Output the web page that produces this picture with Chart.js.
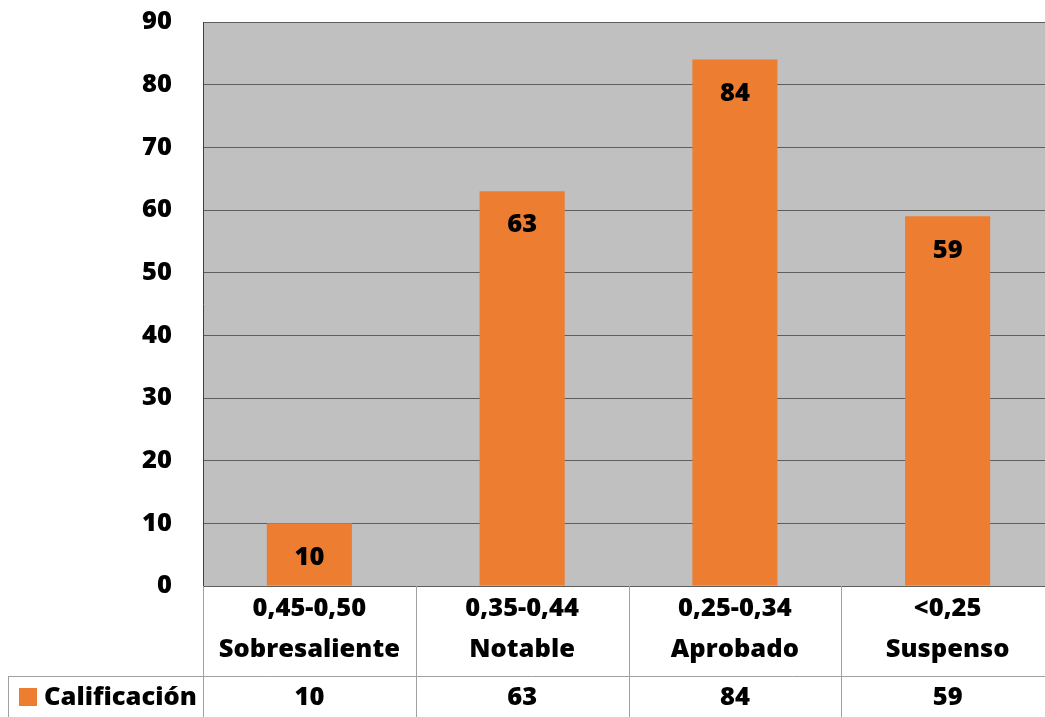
<!DOCTYPE html>
<html>
<head>
<meta charset="utf-8">
<script src="https://cdn.jsdelivr.net/npm/chart.js@4.4.1/dist/chart.umd.min.js"></script>
<style>
  html, body { margin: 0; padding: 0; background: #fff; overflow: hidden; }
  #wrap { width: 1045px; height: 717px; overflow: hidden; }
</style>
</head>
<body>
<div id="wrap"><canvas id="c" width="1054" height="717"></canvas></div>
<script>
// ── Data ───────────────────────────────────────────────────
const rangeLabels = ['0,45-0,50', '0,35-0,44', '0,25-0,34', '<0,25'];
const gradeLabels = ['Sobresaliente', 'Notable', 'Aprobado', 'Suspenso'];
const seriesName = 'Calificación';
const seriesValues = [10, 63, 84, 59];
const yTicks = [0, 10, 20, 30, 40, 50, 60, 70, 80, 90];

const FONT = "'Open Sans', 'Noto Sans', sans-serif";
const FSIZE = 25.5;
const WEIGHT = '800';
const ORANGE = '#ED7D31';
const LINE = '#a0a0a0';

// gray plot background
const plotBg = {
  id: 'plotBg',
  beforeDraw(chart) {
    const { ctx, chartArea: a } = chart;
    ctx.save();
    ctx.fillStyle = '#c0c0c0';
    ctx.fillRect(a.left, a.top, a.right - a.left, a.bottom - a.top);
    ctx.restore();
  }
};

// value labels inside the top of each bar
const barLabels = {
  id: 'barLabels',
  afterDatasetsDraw(chart) {
    const { ctx } = chart;
    const meta = chart.getDatasetMeta(0);
    ctx.save();
    ctx.font = `${WEIGHT} ${FSIZE}px ${FONT}`;
    ctx.fillStyle = '#000';
    ctx.textAlign = 'center';
    ctx.textBaseline = 'middle';
    meta.data.forEach((bar, i) => {
      ctx.fillText(String(seriesValues[i]), bar.x, bar.y + 34);
    });
    ctx.restore();
  }
};

// Excel-like data table under the plot
const dataTable = {
  id: 'dataTable',
  afterDraw(chart) {
    const { ctx, chartArea: a } = chart;
    const x = chart.scales.x;
    const n = rangeLabels.length;
    const cw = (a.right - a.left) / n;
    const top = a.bottom;
    const mid = top + 90;
    const bot = chart.height + 2;

    ctx.save();
    ctx.strokeStyle = LINE;
    ctx.lineWidth = 1;
    ctx.beginPath();
    for (let i = 0; i <= n; i++) {
      const px = Math.round(a.left + i * cw) + 0.5;
      ctx.moveTo(px, top);
      ctx.lineTo(px, bot);
    }
    ctx.moveTo(8.5, mid + 0.5);
    ctx.lineTo(a.right, mid + 0.5);
    ctx.moveTo(8.5, mid);
    ctx.lineTo(8.5, bot);
    ctx.stroke();

    ctx.font = `${WEIGHT} ${FSIZE}px ${FONT}`;
    ctx.fillStyle = '#000';
    ctx.textAlign = 'center';
    ctx.textBaseline = 'middle';
    for (let i = 0; i < n; i++) {
      const cx = x.getPixelForValue(i);
      ctx.fillText(rangeLabels[i], cx, top + 23);
      ctx.fillText(gradeLabels[i], cx, top + 64);
      ctx.fillText(String(seriesValues[i]), cx, mid + 22);
    }

    ctx.fillStyle = ORANGE;
    ctx.fillRect(19, mid + 12, 18, 18);
    ctx.fillStyle = '#000';
    ctx.textAlign = 'left';
    ctx.fillText(seriesName, 44, mid + 22);
    ctx.restore();
  }
};

new Chart(document.getElementById('c'), {
  type: 'bar',
  data: {
    labels: rangeLabels,
    datasets: [{
      label: seriesName,
      data: seriesValues,
      backgroundColor: ORANGE,
      borderWidth: 0,
      barPercentage: 0.4,
      categoryPercentage: 1.0,
    }],
  },
  options: {
    responsive: false,
    animation: false,
    devicePixelRatio: 1,
    layout: { padding: { left: 0, right: 0, top: 22, bottom: 131 } },
    plugins: {
      legend: { display: false },
      tooltip: { enabled: false },
    },
    scales: {
      x: { display: false },
      y: {
        min: 0,
        max: 90,
        afterFit(scale) {
          scale.width = 203;
          scale.paddingTop = 0;
          scale.paddingBottom = 0;
        },
        afterBuildTicks(scale) { scale.ticks = yTicks.map(v => ({ value: v })); },
        ticks: {
          color: '#000',
          font: { family: FONT, size: FSIZE, weight: WEIGHT },
          padding: 31,
        },
        grid: { color: '#5e5e5e', lineWidth: 1, drawTicks: false },
        border: { display: true, color: '#404040', width: 1 },
      },
    },
  },
  plugins: [plotBg, barLabels, dataTable],
});
</script>
</body>
</html>
